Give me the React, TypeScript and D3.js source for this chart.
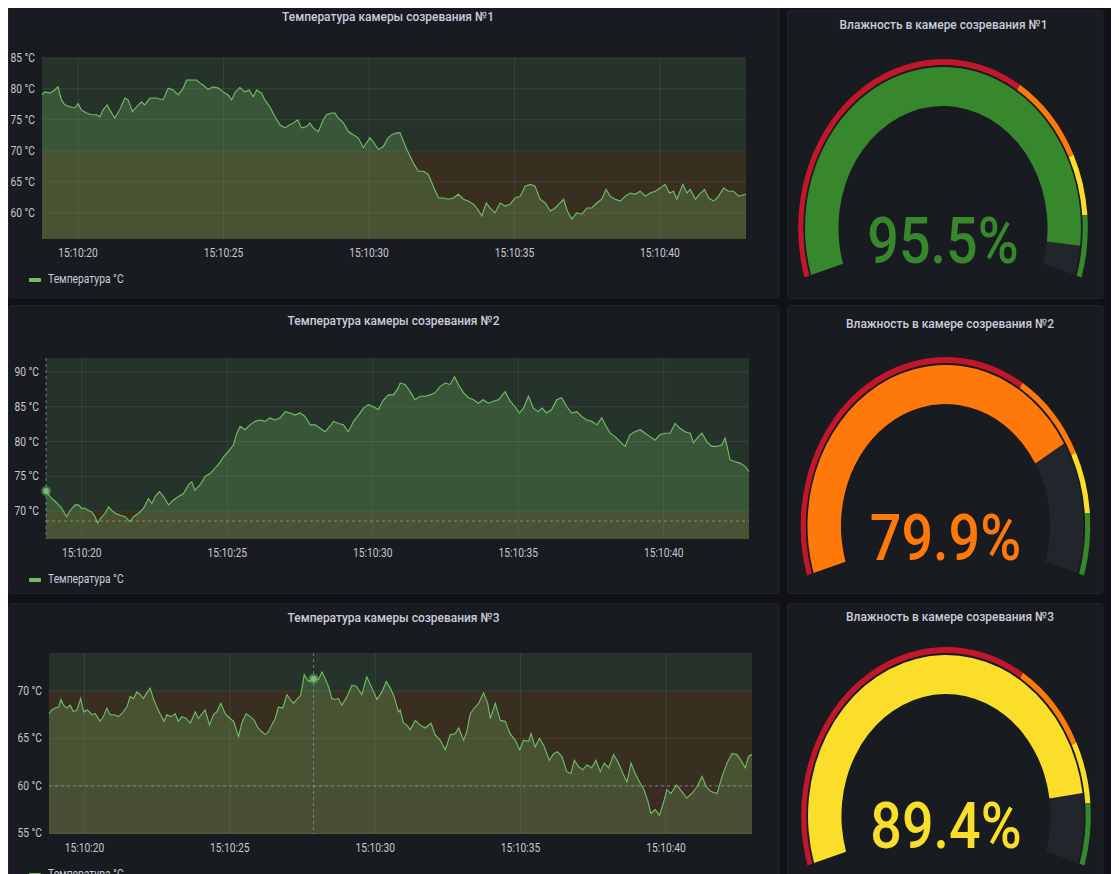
import React from "react";
import * as d3 from "d3";

// Temperature series, seconds after 15:10:00 and °C values
const times1 = [18.76,18.85,19.03,19.2,19.31,19.43,19.54,19.71,19.89,20,20.11,20.29,20.46,20.63,20.75,20.86,21,21.09,21.26,21.43,21.61,21.72,21.87,22.01,22.18,22.29,22.47,22.69,22.92,23.1,23.27,23.44,23.59,23.73,23.9,24.07,24.19,24.3,24.47,24.64,24.82,24.99,25.16,25.28,25.39,25.56,25.73,25.88,26.02,26.14,26.31,26.42,26.59,26.77,26.94,27.11,27.28,27.4,27.55,27.68,27.86,27.97,28.08,28.26,28.43,28.54,28.72,28.83,28.94,29.12,29.29,29.46,29.63,29.81,30.03,30.17,30.32,30.49,30.66,30.78,30.95,31.07,31.3,31.53,31.7,31.87,32.04,32.21,32.39,32.56,32.73,32.9,33.07,33.25,33.42,33.59,33.73,33.88,34.03,34.16,34.33,34.51,34.68,34.85,35.02,35.2,35.37,35.54,35.71,35.88,36.06,36.23,36.4,36.57,36.69,36.82,36.97,37.14,37.32,37.49,37.66,37.83,38,38.15,38.29,38.46,38.64,38.81,38.98,39.15,39.32,39.5,39.67,39.84,40.01,40.18,40.33,40.47,40.58,40.79,40.93,41.04,41.22,41.36,41.53,41.68,41.85,42.02,42.19,42.36,42.53,42.71,42.96];
const values1 = [79.0,79.5,79.3,79.8,80.3,78.2,77.4,77.1,76.9,77.6,76.6,76.1,75.8,75.8,75.5,76.6,77.4,76.6,75.3,76.6,78.5,78.2,76.3,77.1,77.9,77.4,78.5,78.5,78.2,80.1,79.8,79.0,79.9,81.4,81.4,81.4,80.9,80.6,79.9,80.3,80.1,79.5,79.0,78.2,79.4,80.2,79.5,79.8,78.7,79.8,79.3,78.2,77.1,75.5,74.2,73.7,74.2,74.5,75.0,73.7,73.9,74.5,73.7,73.1,75.0,75.8,76.1,76.1,75.3,74.5,73.1,72.6,72.1,70.5,72.1,71.3,70.2,70.7,72.1,72.6,72.9,72.9,70.2,68.0,66.7,66.7,66.2,64.3,62.4,62.4,62.2,62.4,63.0,62.2,61.9,61.4,60.6,59.5,61.6,60.8,60.0,61.6,61.1,61.4,62.4,62.7,64.3,64.6,64.3,62.2,61.6,60.3,60.8,61.6,62.2,60.3,59.0,60.0,59.8,60.8,60.8,61.6,62.2,63.8,62.7,62.2,61.9,62.7,63.2,63.0,63.5,62.7,63.2,63.5,64.0,64.6,63.2,63.5,62.2,64.6,63.2,63.8,62.2,63.0,63.8,62.4,61.9,62.7,64.0,63.5,63.5,62.7,63.0];

const times2 = [18.77,18.91,19.03,19.16,19.31,19.48,19.6,19.77,19.89,20,20.11,20.23,20.34,20.46,20.54,20.63,20.8,20.92,21.03,21.15,21.32,21.49,21.66,21.78,21.95,22.12,22.29,22.41,22.52,22.67,22.81,22.98,23.15,23.32,23.49,23.67,23.78,23.89,24.07,24.24,24.41,24.58,24.73,24.87,25.04,25.21,25.33,25.44,25.61,25.78,25.96,26.13,26.3,26.47,26.64,26.82,26.99,27.16,27.33,27.5,27.67,27.85,28.02,28.19,28.36,28.53,28.65,28.82,28.99,29.16,29.34,29.51,29.68,29.85,30.02,30.19,30.37,30.54,30.71,30.88,30.94,31.11,31.28,31.45,31.63,31.8,31.97,32.14,32.31,32.49,32.66,32.81,32.94,33.12,33.29,33.46,33.63,33.8,33.97,34.15,34.32,34.55,34.72,34.89,35.04,35.18,35.35,35.52,35.69,35.81,35.98,36.15,36.32,36.49,36.67,36.84,37.01,37.18,37.35,37.53,37.7,37.87,38.02,38.16,38.33,38.5,38.67,38.84,39.01,39.19,39.36,39.53,39.7,39.87,40.05,40.22,40.39,40.56,40.73,40.91,41.02,41.19,41.31,41.48,41.65,41.82,41.99,42.11,42.28,42.45,42.62,42.8,42.93];
const values2 = [72.9,72.1,71.6,71.1,70.4,69.2,70.1,70.9,70.9,70.4,70.4,70.1,69.9,69.2,68.3,68.9,69.7,70.6,70.1,69.7,69.4,69.2,68.5,69.2,69.7,70.4,71.8,71.1,72.1,72.8,72.1,70.9,71.6,72.1,72.5,73.8,74.2,73.0,73.8,75.0,75.4,76.2,76.9,77.8,78.6,79.5,81.2,82.2,81.7,82.4,82.9,83.1,82.9,83.4,83.1,83.4,84.3,84.1,83.8,84.1,83.6,82.4,82.4,81.9,81.4,82.2,82.9,82.6,82.4,81.4,82.9,83.8,84.8,85.3,85.0,84.6,86.0,86.7,86.7,87.7,88.4,88.2,87.2,86.0,86.5,86.5,86.7,87.0,87.9,88.4,88.2,89.3,88.2,87.0,86.3,86.0,85.5,86.0,85.5,85.8,86.0,87.2,85.8,85.0,84.1,84.8,86.5,84.8,84.3,84.8,84.1,84.6,86.0,86.3,85.0,84.1,84.3,83.6,83.1,82.9,82.4,83.4,82.2,81.2,80.7,80.0,79.3,81.0,81.4,81.7,81.2,80.7,80.2,81.0,81.2,81.2,82.6,81.9,81.4,81.2,79.8,80.7,81.2,80.0,79.3,79.3,79.5,80.5,77.4,77.1,76.9,76.4,75.7];

const times3 = [18.78,18.88,18.99,19.11,19.19,19.28,19.39,19.51,19.62,19.74,19.87,19.97,20.1,20.25,20.37,20.54,20.65,20.77,20.88,21.02,21.17,21.28,21.46,21.57,21.69,21.8,21.92,22.03,22.14,22.26,22.37,22.49,22.6,22.74,22.83,22.97,23.12,23.23,23.35,23.5,23.64,23.81,23.92,24.04,24.15,24.3,24.44,24.55,24.69,24.84,25.01,25.13,25.3,25.41,25.56,25.7,25.84,25.95,26.1,26.22,26.33,26.44,26.56,26.67,26.82,26.96,27.08,27.19,27.33,27.44,27.56,27.71,27.88,28.05,28.17,28.28,28.39,28.51,28.62,28.74,28.85,29.03,29.2,29.35,29.54,29.71,29.89,30.06,30.23,30.38,30.52,30.65,30.8,30.86,30.97,31.09,31.2,31.38,31.55,31.72,31.92,32.06,32.24,32.41,32.58,32.75,32.87,33.04,33.15,33.27,33.41,33.56,33.73,33.87,33.96,34.13,34.3,34.47,34.64,34.82,34.97,35.1,35.28,35.36,35.5,35.65,35.79,35.99,36.14,36.27,36.42,36.59,36.73,36.85,37,37.14,37.28,37.45,37.59,37.74,37.88,38.03,38.2,38.37,38.52,38.66,38.8,38.94,39.09,39.23,39.37,39.48,39.63,39.78,39.92,40.03,40.17,40.36,40.55,40.72,40.89,41.07,41.24,41.39,41.55,41.76,41.93,42.1,42.27,42.44,42.58,42.73,42.84,42.96];
const values3 = [67.6,68.0,68.2,68.3,69.1,68.5,68.2,68.5,67.8,68.0,69.2,67.8,68.0,67.5,67.6,66.8,67.3,68.2,67.5,67.5,67.3,67.6,68.3,69.4,69.2,69.9,69.6,69.2,69.8,70.3,69.2,68.3,67.6,66.8,67.5,67.3,67.6,66.8,67.3,67.1,66.6,67.8,67.1,67.6,68.0,66.4,67.5,67.8,68.7,67.6,67.1,66.8,65.2,66.6,67.6,67.3,66.9,66.2,65.7,65.4,65.7,66.4,67.1,68.3,68.2,69.6,69.1,68.7,69.2,69.6,71.7,71.0,71.3,71.2,72.0,71.3,70.5,69.2,69.1,69.2,68.5,69.4,70.6,70.5,69.6,71.5,70.3,69.1,69.9,71.0,70.3,69.4,67.8,68.0,66.6,66.4,65.9,66.9,66.4,66.1,66.6,65.4,64.8,63.8,65.4,65.5,66.1,64.8,65.7,67.6,68.2,68.7,69.8,68.7,67.1,68.7,66.9,66.8,65.5,64.8,63.8,64.8,64.7,65.5,64.1,65.0,64.3,62.7,63.4,63.6,63.1,61.5,61.3,62.7,62.0,61.7,62.2,61.9,62.7,61.5,62.4,61.9,63.3,62.4,61.3,60.4,62.4,61.3,60.4,59.7,58.5,57.1,57.5,56.9,58.3,59.6,59.2,60.1,59.4,58.7,59.2,59.9,61.0,59.9,59.4,59.2,61.0,62.4,63.4,63.3,62.7,61.9,63.1,63.3];

const yTicks1 = [60, 65, 70, 75, 80, 85];
const yTicks2 = [70, 75, 80, 85, 90];
const yTicks3 = [55, 60, 65, 70];

const chartTitles = [
  "Температура камеры созревания №1",
  "Температура камеры созревания №2",
  "Температура камеры созревания №3",
];
const seriesName = "Температура °C";

// Humidity gauges
const gaugeTitles = [
  "Влажность в камере созревания №1",
  "Влажность в камере созревания №2",
  "Влажность в камере созревания №3",
];
const gaugeValues = [95.5, 79.9, 89.4];
const gaugeMin = 10;
const gaugeMax = 100;
const gaugeThresholds = [68.5, 82, 91];
const gaugeColors = ["#c4162a", "#ff780a", "#fade2a", "#37872d"];

const SX = 0.857; // the screenshot is squeezed horizontally
const FONT = "Roboto, sans-serif";
const base = new Date(2021, 0, 1, 15, 10, 0).getTime();
const sec = (s: number) => new Date(base + s * 1000);
const fmt = d3.timeFormat("%H:%M:%S");

const GREEN = "#26332a";
const ORANGE = "#392f21";
const RED = "#3b2a25";

const charts = [
  {
    times: times1, values: values1, yTicks: yTicks1, yDomain: [55.8, 85],
    left: 42, right: 746, top: 57.7, bottom: 239,
    panelY: 2, panelH: 295.5, titleX: 388, titleY: 20.5,
    bands: [[-Infinity, 70, ORANGE], [70, Infinity, GREEN]],
    hLine: null as number | null, cross: null as number | null,
  },
  {
    times: times2, values: values2, yTicks: yTicks2, yDomain: [66, 92],
    left: 46, right: 749, top: 358, bottom: 539,
    panelY: 305, panelH: 288, titleX: 393.5, titleY: 325,
    bands: [[-Infinity, 70, ORANGE], [70, Infinity, GREEN]],
    hLine: 68.57, cross: 0,
  },
  {
    times: times3, values: values3, yTicks: yTicks3, yDomain: [54.93, 74],
    left: 49, right: 752, top: 653, bottom: 834,
    panelY: 603, panelH: 300, titleX: 393.5, titleY: 621.5,
    bands: [[-Infinity, 60, RED], [60, 70, ORANGE], [70, Infinity, GREEN]],
    hLine: 60, cross: 72,
  },
];

const gauges = [
  { cx: 943, cy: 228, panelY: 10, panelH: 288, titleX: 943.5, titleY: 28.5, valY: 263 },
  { cx: 945.5, cy: 526, panelY: 305, panelH: 288, titleX: 950, titleY: 328, valY: 560 },
  { cx: 946, cy: 816, panelY: 603, panelH: 300, titleX: 950, titleY: 620.5, valY: 848 },
];

function Txt({ x, y, size, fill = "#ccccdc", weight = 400, anchor = "start", sx = SX, children }: any) {
  return (
    <text
      transform={`translate(${x},${y}) scale(${sx},1)`}
      fontSize={size}
      fill={fill}
      fontWeight={weight}
      textAnchor={anchor}
      fontFamily={FONT}
    >
      {children}
    </text>
  );
}

function TempChart({ c, i }: any) {
  const x = d3.scaleTime().domain([sec(c.times[0]), sec(c.times[c.times.length - 1])]).range([c.left, c.right]);
  const y = d3.scaleLinear().domain(c.yDomain).range([c.bottom, c.top]);
  const pts: [Date, number][] = c.times.map((t: number, k: number) => [sec(t), c.values[k]]);
  const line = d3.line<[Date, number]>().x((d) => x(d[0])).y((d) => y(d[1]));
  const area = d3.area<[Date, number]>().x((d) => x(d[0])).y0(c.bottom).y1((d) => y(d[1]));
  const xTicks = x.ticks(d3.timeSecond.every(5) as any);
  const [lo, hi] = c.yDomain;

  return (
    <g>
      <rect x={8.5} y={c.panelY + 0.5} width={770.5} height={c.panelH} rx={3} fill="#181b1f" stroke="#222428" />
      <Txt x={c.titleX} y={c.titleY} size={13} sx={0.92} weight={500} anchor="middle">{chartTitles[i]}</Txt>

      {c.bands.map((b: any, k: number) => {
        const a = Math.max(b[0], lo);
        const z = Math.min(b[1], hi);
        return <rect key={k} x={c.left} width={c.right - c.left} y={y(z)} height={y(a) - y(z)} fill={b[2]} />;
      })}

      {c.yTicks.map((v: number) => (
        <g key={v}>
          <line x1={c.left} x2={c.right} y1={y(v)} y2={y(v)} stroke="rgba(204,204,220,0.1)" />
          <Txt x={c.left - 7} y={y(v) + 4} size={12} anchor="end" fill="#c7c7d1">{`${v} °C`}</Txt>
        </g>
      ))}
      {xTicks.map((t: Date) => (
        <g key={+t}>
          <line x1={x(t)} x2={x(t)} y1={c.top} y2={c.bottom} stroke="rgba(204,204,220,0.1)" />
          <Txt x={x(t)} y={c.bottom + 18} size={12} anchor="middle" fill="#c7c7d1">{fmt(t)}</Txt>
        </g>
      ))}

      <path d={area(pts) || ""} fill="rgba(115,191,105,0.25)" />
      <path d={line(pts) || ""} fill="none" stroke="#73bf69" strokeWidth={1.1} />

      {c.hLine !== null && (
        <line x1={c.left} x2={c.right} y1={y(c.hLine)} y2={y(c.hLine)} stroke="rgba(204,204,220,0.45)" strokeDasharray="3 3" />
      )}
      {c.cross !== null && (
        <g>
          <line x1={x(pts[c.cross][0])} x2={x(pts[c.cross][0])} y1={c.top} y2={c.bottom}
            stroke="rgba(160,180,200,0.55)" strokeDasharray="3 3" />
          <circle cx={x(pts[c.cross][0])} cy={y(pts[c.cross][1])} r={5} fill="rgba(115,191,105,0.45)" />
          <circle cx={x(pts[c.cross][0])} cy={y(pts[c.cross][1])} r={3} fill="#73bf69" />
        </g>
      )}

      <rect x={29} y={c.bottom + 39} width={12} height={4} rx={1} fill="#73bf69" />
      <Txt x={48} y={c.bottom + 44} size={12} fill="#ccccdc">{seriesName}</Txt>
    </g>
  );
}

function Gauge({ g, i }: any) {
  const th = (107 * Math.PI) / 180;
  const ang = d3.scaleLinear().domain([gaugeMin, gaugeMax]).range([-th, th]);
  const bounds = [gaugeMin, ...gaugeThresholds, gaugeMax];
  const ring = d3.arc<any>().innerRadius(163).outerRadius(169);
  const bar = d3.arc<any>().innerRadius(122).outerRadius(161);
  const v = gaugeValues[i];
  const color = gaugeColors[d3.bisectRight(gaugeThresholds, v)];

  return (
    <g>
      <rect x={787.5} y={g.panelY + 0.5} width={315.5} height={g.panelH} rx={3} fill="#181b1f" stroke="#222428" />
      <Txt x={g.titleX} y={g.titleY} size={13} sx={0.92} weight={500} anchor="middle">{gaugeTitles[i]}</Txt>
      <g transform={`translate(${g.cx},${g.cy}) scale(${SX},1)`}>
        {gaugeColors.map((col, k) => (
          <path key={k} d={ring({ startAngle: ang(bounds[k]), endAngle: ang(bounds[k + 1]) }) || ""} fill={col} />
        ))}
        <path d={bar({ startAngle: -th, endAngle: th }) || ""} fill="#22252b" />
        <path d={bar({ startAngle: -th, endAngle: ang(v) }) || ""} fill={color} />
      </g>
      <Txt x={g.cx} y={g.valY} size={65} weight={500} fill={color} anchor="middle">{`${v}%`}</Txt>
    </g>
  );
}

export default function App() {
  return (
    <>
      <style>{"html,body{overflow:hidden}"}</style>
      <svg width={1111} height={866} viewBox="8 8 1111 866" style={{ display: "block" }}>
        <rect x={8} y={8} width={1111} height={866} fill="#111217" />
        {charts.map((c, i) => (
          <TempChart key={i} c={c} i={i} />
        ))}
        {gauges.map((g, i) => (
          <Gauge key={i} g={g} i={i} />
        ))}
      </svg>
    </>
  );
}
